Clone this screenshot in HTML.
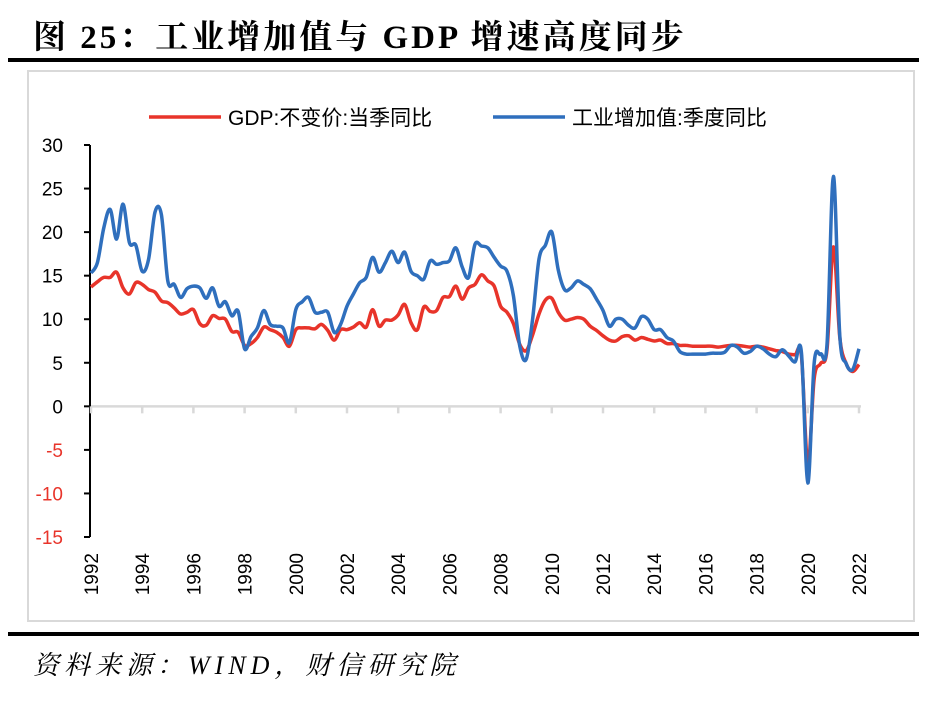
<!DOCTYPE html>
<html><head><meta charset="utf-8">
<style>
html,body{margin:0;padding:0;background:#fff;}
body{width:944px;height:707px;position:relative;overflow:hidden;font-family:"Liberation Sans","Noto Sans CJK SC",sans-serif;}
#title{position:absolute;left:33px;top:11px;font-family:"Liberation Serif","Noto Serif CJK SC",serif;font-weight:bold;font-size:33px;letter-spacing:3px;color:#000;white-space:nowrap;}
.rule{position:absolute;left:8px;width:911px;height:4px;background:#000;}
#source{position:absolute;left:33px;top:645px;font-family:"Liberation Serif","Noto Serif CJK SC",serif;font-style:italic;font-size:26px;letter-spacing:5px;color:#000;white-space:nowrap;}
</style></head>
<body>
<div id="title">图 25：工业增加值与 GDP 增速高度同步</div>
<div class="rule" style="top:58px"></div>
<div class="rule" style="top:632px"></div>
<div id="source">资料来源：WIND，财信研究院</div>
<svg id="chart" width="944" height="707" style="position:absolute;left:0;top:0"></svg>
<script>
const yTicks=[30,25,20,15,10,5,0,-5,-10,-15];
const yearLabels=[1992,1994,1996,1998,2000,2002,2004,2006,2008,2010,2012,2014,2016,2018,2020,2022];
const gdp=[13.7,14.3,14.8,14.8, 15.4,13.6,12.9,14.2, 14.0,13.4,13.1,12.1, 11.9,11.3,10.6,10.8,
 11.1,9.5,9.3,10.4, 10.1,10.0,8.6,8.5, 7.0,7.2,7.9,9.1, 8.8,8.5,7.9,6.9,
 8.8,9.0,9.0,8.9, 9.4,8.7,7.6,8.8, 8.8,9.1,9.6,9.1, 11.1,9.2,9.9,9.9,
 10.5,11.7,9.6,8.8, 11.4,10.9,11.0,12.5, 12.6,13.8,12.3,13.6, 14.0,15.1,14.4,13.8,
 11.5,10.8,9.5,7.1, 6.4,8.2,10.6,12.2, 12.4,10.8,9.9,10.0, 10.2,10.0,9.2,8.7,
 8.1,7.6,7.5,8.0, 8.1,7.6,7.9,7.7, 7.5,7.6,7.2,7.2, 7.0,7.0,6.9,6.9,
 6.9,6.9,6.8,6.9, 7.0,7.0,6.9,6.8, 6.9,6.8,6.6,6.4, 6.3,6.0,5.9,5.8,
 -6.8,3.2,4.9,6.5, 18.3,7.9,4.9,4.0, 4.8];
const ind=[15.3,16.5,20.5,22.6, 19.2,23.2,18.8,18.5, 15.5,16.9,22.3,22.0, 14.4,14.0,12.5,13.5,
 13.8,13.6,12.4,13.6, 11.5,12.0,10.4,10.9, 6.6,8.0,9.0,11.0, 9.4,9.2,9.0,7.3,
 11.1,12.0,12.5,10.8, 10.8,10.8,8.5,9.4, 11.5,12.9,14.2,14.8, 17.1,15.4,16.5,17.8,
 16.5,17.7,15.5,15.0, 14.6,16.7,16.3,16.5, 16.7,18.2,16.0,14.8, 18.6,18.4,18.2,17.1,
 16.1,15.5,12.7,6.9, 5.4,10.0,16.9,18.5, 20.0,15.7,13.4,13.6, 14.4,14.0,13.5,12.3,
 11.0,9.2,10.0,10.0, 9.3,9.0,10.3,10.0, 8.8,8.8,7.9,7.5, 6.3,6.0,6.0,6.0,
 6.0,6.1,6.1,6.2, 7.0,6.8,6.1,6.3, 6.9,6.6,6.0,5.7, 6.5,5.8,5.1,6.2,
 -8.8,5.0,6.0,7.1, 26.4,8.1,4.9,4.2, 6.6];
const seriesNames=["GDP:不变价:当季同比","工业增加值:季度同比"];

const NS="http://www.w3.org/2000/svg";
const svg=document.getElementById('chart');
const X0=91,X1=859,Y30=145,Ym15=537;
function xs(t){return X0+(t-1992)/30*(X1-X0);}
function ys(v){return Y30+(30-v)/45*(Ym15-Y30);}
function mk(tag,attrs,parent){const e=document.createElementNS(NS,tag);for(const k in attrs)e.setAttribute(k,attrs[k]);(parent||svg).appendChild(e);return e;}

const frame=mk('rect',{x:28,y:71,width:886,height:550,fill:'none',stroke:'#d9d9d9','stroke-width':2});



const yax=mk('line',{x1:X0-1,y1:ys(30),x2:X0-1,y2:ys(-15),stroke:'#000','stroke-width':2});


yTicks.forEach(v=>{
  const tk=mk('line',{x1:X0-7,y1:ys(v),x2:X0-1,y2:ys(v),stroke:'#000','stroke-width':2});
  
  
  const t=mk('text',{x:63,y:ys(v)+7,'text-anchor':'end','font-size':19,fill:v<0?'#e8342a':'#000','font-family':'Liberation Sans, sans-serif'});
  t.textContent=v;
  
  
});
const xax=mk('line',{x1:X0,y1:ys(0),x2:X1+2,y2:ys(0),stroke:'#d9d9d9','stroke-width':2.5});


yearLabels.forEach(yr=>{
  const x=xs(yr);
  const tk=mk('line',{x1:x,y1:ys(0),x2:x,y2:ys(0)+7,stroke:'#d9d9d9','stroke-width':2.5});
  
  
  const t=mk('text',{x:0,y:0,'font-size':19,fill:'#000','text-anchor':'end','font-family':'Liberation Sans, sans-serif',transform:`translate(${x+7},553) rotate(-90)`});
  t.textContent=yr;
  
  
});

function smoothPath(vals){
  const p=vals.map((v,i)=>[xs(1992+i*0.25),ys(v)]);
  let d=`M${p[0][0].toFixed(1)},${p[0][1].toFixed(1)}`;
  for(let i=0;i<p.length-1;i++){
    const p0=p[i-1]||p[i],p1=p[i],p2=p[i+1],p3=p[i+2]||p[i+1];
    const c1=[p1[0]+(p2[0]-p0[0])/6,p1[1]+(p2[1]-p0[1])/6];
    const c2=[p2[0]-(p3[0]-p1[0])/6,p2[1]-(p3[1]-p1[1])/6];
    d+=`C${c1[0].toFixed(1)},${c1[1].toFixed(1)} ${c2[0].toFixed(1)},${c2[1].toFixed(1)} ${p2[0].toFixed(1)},${p2[1].toFixed(1)}`;
  }
  return d;
}
const red=mk('path',{d:smoothPath(gdp),fill:'none',stroke:'#e8342a','stroke-width':3.5,'stroke-linejoin':'round'});


const blue=mk('path',{d:smoothPath(ind),fill:'none',stroke:'#2f6fbd','stroke-width':3.5,'stroke-linejoin':'round'});



const leg=[[149,'#e8342a',seriesNames[0]],[493,'#2f6fbd',seriesNames[1]]];
leg.forEach((l,i)=>{
  const ln=mk('line',{x1:l[0],y1:117,x2:l[0]+72,y2:117,stroke:l[1],'stroke-width':3.5});
  
  
  const t=mk('text',{x:l[0]+79,y:125,'font-size':21,fill:'#000','font-family':'Liberation Sans, Noto Sans CJK SC, sans-serif'});
  t.textContent=l[2];
  
  
});
</script>
</body></html>
